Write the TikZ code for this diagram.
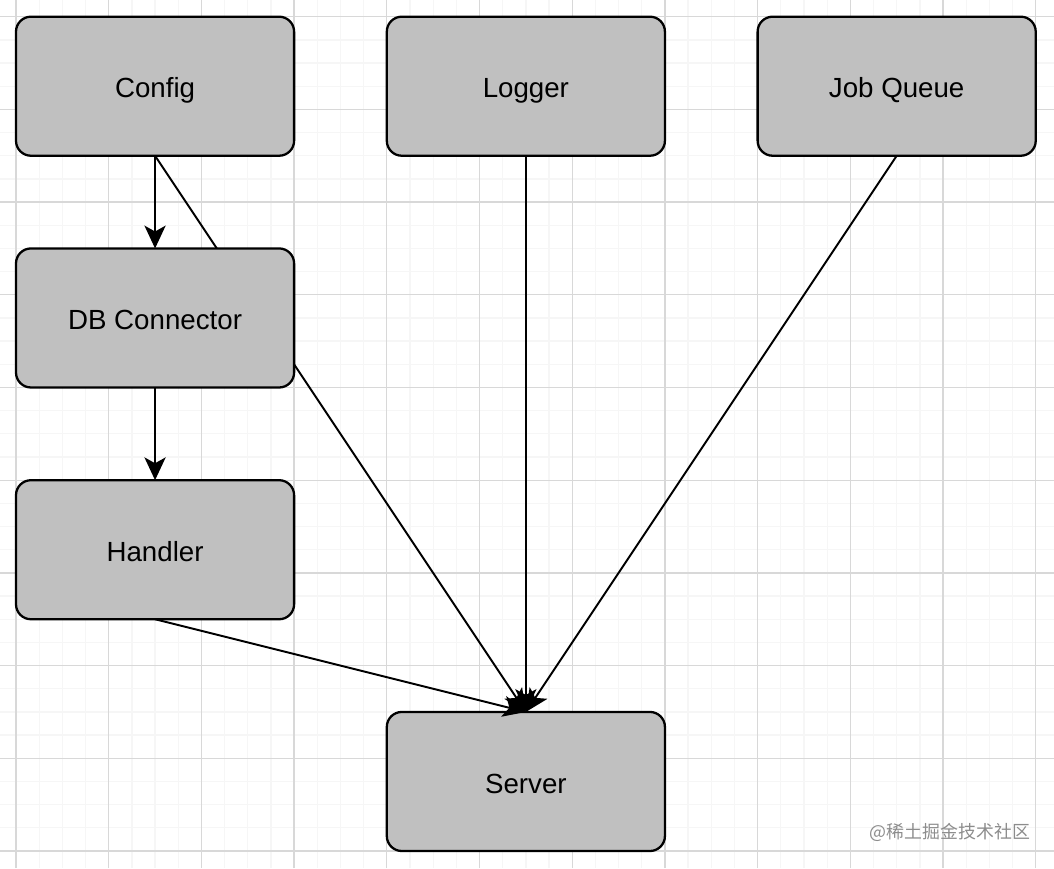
\documentclass[tikz,border=0pt]{standalone}
\usepackage{fontspec}
\setmainfont{Liberation Sans}
\newfontfamily\cjk{Noto Sans CJK SC}
\usetikzlibrary{arrows.meta,backgrounds}
\definecolor{boxgray}{RGB}{192,192,192}
\definecolor{majorline}{RGB}{216,216,216}
\definecolor{minorline}{RGB}{246,246,246}
\definecolor{markgray}{RGB}{140,140,140}
\begin{document}
\begin{tikzpicture}[
  box/.style={draw, line width=0.7pt, fill=boxgray, rounded corners=4.6pt,
    minimum width=3cm, minimum height=1.5cm, inner sep=0pt, outer sep=0pt,
    text height=0.72em, text depth=0pt, font=\fontsize{8.5}{10}\selectfont},
  link/.style={line width=0.6pt, -{Stealth[length=7pt,width=6.5pt,inset=1.8pt]}}
]
\useasboundingbox (-0.1726,-0.1834) rectangle (11.197,9.180);

\node[box] (config) at (1.5,8.25) {Config};
\node[box] (logger) at (5.5,8.25) {Logger};
\node[box] (jobqueue) at (9.5,8.25) {Job Queue};
\node[box] (db) at (1.5,5.75) {DB Connector};
\node[box] (handler) at (1.5,3.25) {Handler};
\node[box] (server) at (5.5,0.75) {Server};

\draw[link] (config) -- (db);
\draw[link] (db) -- (handler);
\draw[link] (handler.south) -- (server.north);
\draw[link] (logger) -- (server);
\draw[link] (jobqueue.south) -- (server.north);

% grid and the config line go behind the boxes
\begin{scope}[on background layer]
\draw[minorline, line width=0.4pt, step=0.25] (-0.1726,-0.1834) grid (11.197,9.180);
\draw[majorline, line width=0.4pt, step=1] (-0.1726,-0.1834) grid (11.197,9.180);
\draw[link] (config.south) -- (server.north);
\end{scope}

\node[text=markgray, font=\cjk\fontsize{5.5}{6}\selectfont] (mark) at (10.075,0.205) {@稀土掘金技术社区};
\end{tikzpicture}
\end{document}
